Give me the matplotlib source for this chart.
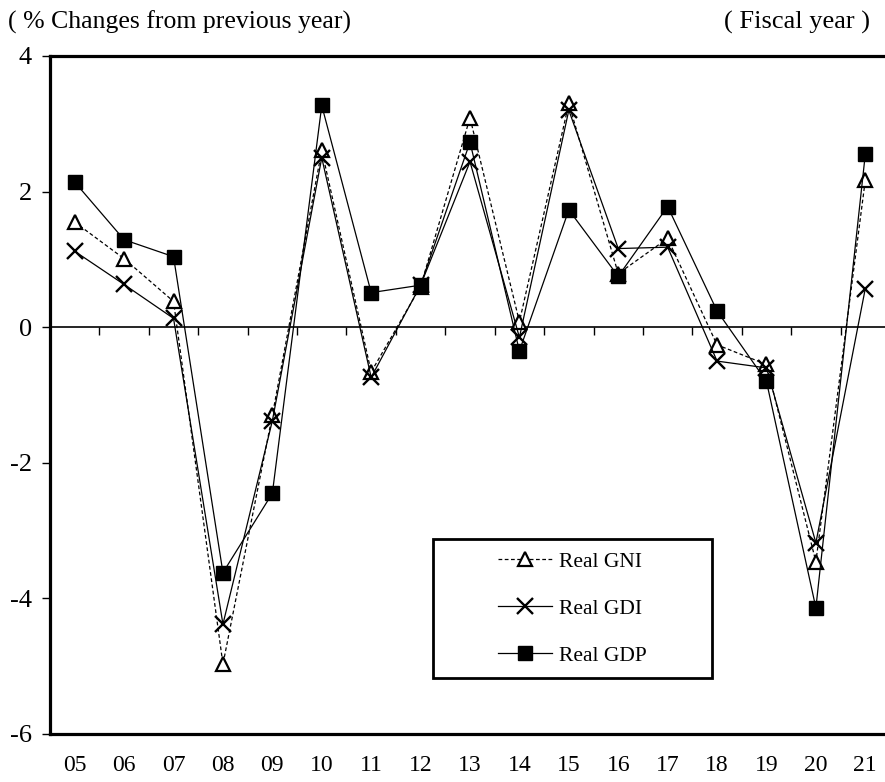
import matplotlib
matplotlib.use("Agg")
import matplotlib.pyplot as plt
from matplotlib.patches import Rectangle

years = ["05", "06", "07", "08", "09", "10", "11", "12", "13", "14", "15", "16", "17", "18", "19", "20", "21"]
real_gni = [1.55, 1.01, 0.38, -4.97, -1.30, 2.61, -0.66, 0.60, 3.09, 0.08, 3.30, 0.79, 1.31, -0.26, -0.55, -3.46, 2.17]
real_gdi = [1.12, 0.63, 0.13, -4.38, -1.38, 2.50, -0.74, 0.62, 2.44, -0.15, 3.20, 1.16, 1.18, -0.50, -0.60, -3.18, 0.57]
real_gdp = [2.14, 1.29, 1.04, -3.62, -2.45, 3.27, 0.51, 0.62, 2.73, -0.35, 1.73, 0.75, 1.78, 0.24, -0.80, -4.14, 2.55]
y_ticks = [4, 2, 0, -2, -4, -6]
y_tick_labels = ["4", "2", "0", "-2", "-4", "-6"]

plt.rcParams['font.family'] = ['Liberation Serif', 'DejaVu Serif']

W, H = 885, 782
fig = plt.figure(figsize=(W / 100, H / 100), dpi=100)
left, right, top, bottom = 50, 890, 56, 734
ax = fig.add_axes([left / W, (H - bottom) / H, (right - left) / W, (bottom - top) / H])

x = list(range(len(years)))

ax.plot(x, real_gni, color='black', lw=0.9, ls=(0, (3, 2)), marker='^', ms=10,
        mfc='white', mec='black', mew=1.6, label='Real GNI', zorder=3)
ax.plot(x, real_gdi, color='black', lw=0.9, ls='-', marker='x', ms=11,
        mec='black', mew=1.7, label='Real GDI', zorder=4)
ax.plot(x, real_gdp, color='black', lw=0.9, ls='-', marker='s', ms=10,
        mfc='black', mec='black', label='Real GDP', zorder=5)

ax.set_xlim(-0.5, len(years) - 0.5)
ax.set_ylim(-6, 4)

# zero line with small downward ticks at category boundaries
ax.axhline(0, color='black', lw=1.2, zorder=2)
bounds = [i + 0.5 for i in range(len(years) - 1)]
ax.vlines(bounds, -0.12, 0, color='black', lw=1.0, zorder=2)

for s in ['left', 'top', 'bottom', 'right']:
    ax.spines[s].set_linewidth(2.3)

ax.set_yticks(y_ticks)
ax.set_yticklabels(y_tick_labels, fontsize=19)
ax.tick_params(axis='y', direction='out', length=6, width=1, pad=7)
ax.set_xticks(x)
ax.set_xticklabels(years, fontsize=17)
ax.tick_params(axis='x', length=0, pad=15)

# legend box
bx0, bx1 = (433 - left) / (right - left), (712 - left) / (right - left)
by0, by1 = (bottom - 678) / (bottom - top), (bottom - 539) / (bottom - top)
ax.add_patch(Rectangle((bx0, by0), bx1 - bx0, by1 - by0, transform=ax.transAxes,
                       fill=True, facecolor='white', edgecolor='black', lw=2.0, zorder=6))
leg = ax.legend(loc='center', bbox_to_anchor=((bx0 + bx1) / 2, (by0 + by1) / 2),
                frameon=False, fontsize=15.5, handlelength=2.5, handletextpad=0.35,
                labelspacing=1.25)
leg.set_zorder(7)

fig.text(8 / W, 1 - 22 / H, "( % Changes from previous year)", fontsize=18.5, va='center', ha='left')
fig.text(870 / W, 1 - 22 / H, "( Fiscal year )", fontsize=19, va='center', ha='right')

fig.savefig("out.png", dpi=100)
